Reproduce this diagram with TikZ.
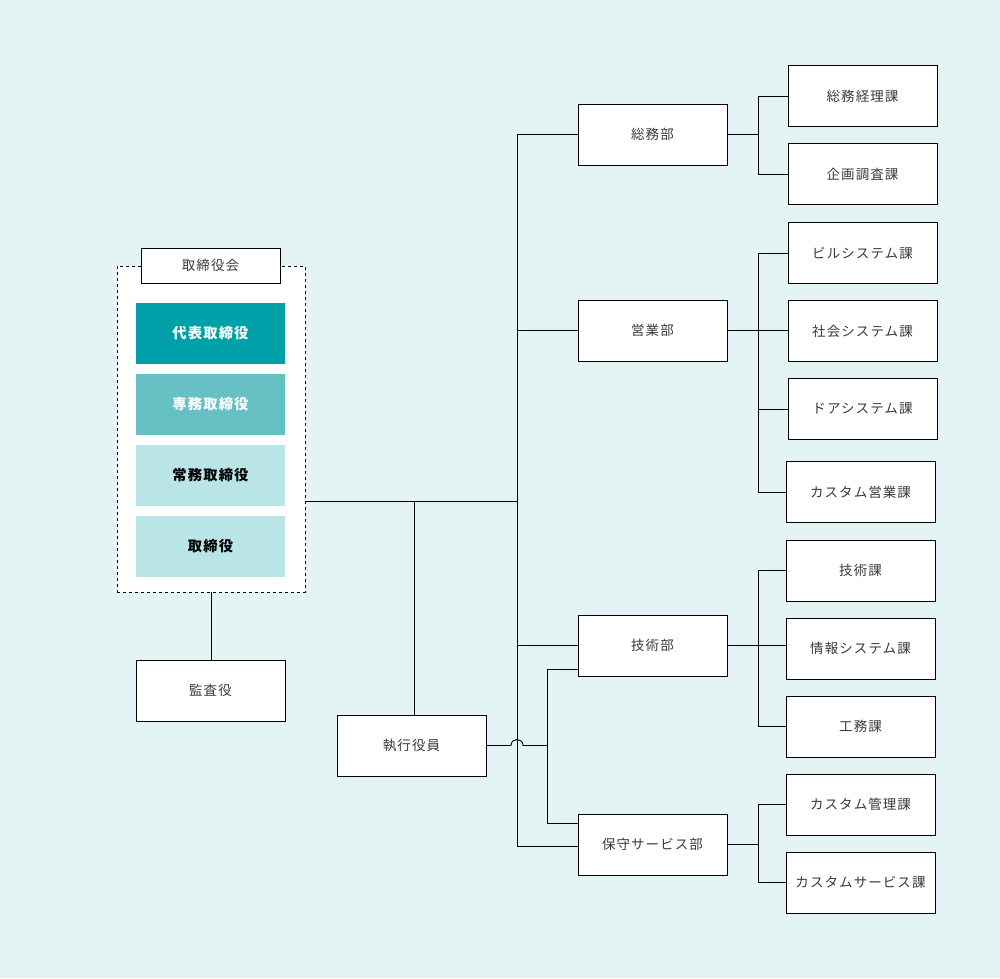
\documentclass[tikz,border=0pt]{standalone}
\usepackage{fontspec}
\setmainfont{Noto Sans CJK JP}[LetterSpace=8]
\definecolor{bgc}{HTML}{E4F4F4}
\definecolor{tealA}{HTML}{00A0A8}
\definecolor{tealB}{HTML}{66C0C4}
\definecolor{tealC}{HTML}{B9E5E7}
\definecolor{txt}{HTML}{3A3A3A}
\begin{document}
\begin{tikzpicture}[x=1pt,y=-1pt,
  box/.style={draw=black,fill=white,line width=0.9pt,minimum width=149pt,minimum height=61pt,inner sep=0pt,text=txt,font=\fontsize{13.5}{16}\selectfont},
  rank/.style={minimum width=149pt,minimum height=61pt,inner sep=0pt,font=\fontsize{14.3}{16}\selectfont\bfseries},
  conn/.style={line width=0.9pt,black}]
\useasboundingbox[fill=bgc] (0,0) rectangle (1000,978);
% board group
\node[draw=black,dashed,line width=0.9pt,fill=white,minimum width=188pt,minimum height=326pt,inner sep=0pt] (board) at (211,429) {};
\node[box,minimum width=139pt,minimum height=35pt] (boardlbl) at (210.5,265.5) {取締役会};
\node[rank,fill=tealA,text=white] (daihyo) at (210.5,333.5) {代表取締役};
\node[rank,fill=tealB,text=white] (senmu) at (210.5,404.5) {専務取締役};
\node[rank,fill=tealC,text=black] (jomu) at (210.5,475.5) {常務取締役};
\node[rank,fill=tealC,text=black] (tori) at (210.5,546.5) {取締役};
\node[box] (kansa) at (210.5,690.5) {監査役};
\node[box] (shikko) at (411.5,745.5) {執行役員};
% departments
\node[box] (somu) at (652.5,134.5) {総務部};
\node[box] (eigyo) at (652.5,330.5) {営業部};
\node[box] (gijutsu) at (652.5,645.5) {技術部};
\node[box] (hosh) at (652.5,844.5) {保守サービス部};
% sections
\node[box] (s1) at (862.5,96) {総務経理課};
\node[box] (s2) at (862.5,174) {企画調査課};
\node[box] (e1) at (862.5,253) {ビルシステム課};
\node[box] (e2) at (862.5,331) {社会システム課};
\node[box] (e3) at (862.5,409) {ドアシステム課};
\node[box] (e4) at (860.5,492) {カスタム営業課};
\node[box] (g1) at (860.5,570.5) {技術課};
\node[box] (g2) at (860.5,648.5) {情報システム課};
\node[box] (g3) at (860.5,726.5) {工務課};
\node[box] (h1) at (860.5,804.5) {カスタム管理課};
\node[box] (h2) at (860.5,882.5) {カスタムサービス課};
% coordinates
\coordinate (bj) at (305,501);
\coordinate (tA) at (517,134.5);
\coordinate (tB) at (517,846);
\coordinate (mid) at (414,501);
\coordinate (fA) at (547,669);
\coordinate (fB) at (547,823);
\coordinate (fM) at (547,745.5);
\coordinate (hopL) at (511,745.5);
\coordinate (hopR) at (523,745.5);
\coordinate (rs) at (758,96);
% connectors left
\draw[conn] (board.south) -- (board.south |- kansa.north);
\draw[conn] (bj) -- (tA |- bj);
\draw[conn] (mid) -- (mid |- shikko.north);
% trunk
\draw[conn] (somu.west) -- (tA) -- (tB) -- (hosh.west |- tB);
\draw[conn] (tA |- eigyo.west) -- (eigyo.west);
\draw[conn] (tA |- gijutsu.west) -- (gijutsu.west);
% second feed with hop
\draw[conn] (shikko.east) -- (hopL) .. controls (511,737.5) and (523,737.5) .. (hopR) -- (fM);
\draw[conn] (gijutsu.west |- fA) -- (fA) -- (fB) -- (hosh.west |- fB);
% right brackets
\draw[conn] (somu.east) -- (rs |- somu.east);
\draw[conn] (s1.west) -| (rs) |- (s2.west);
\draw[conn] (eigyo.east) -- (e2.west |- eigyo.east);
\draw[conn] (e1.west) -- (rs |- e1.west) -- (rs |- e4.west) -- (e4.west);
\draw[conn] (rs |- e3.west) -- (e3.west);
\draw[conn] (gijutsu.east) -- (g2.west |- gijutsu.east);
\draw[conn] (g1.west) -- (rs |- g1.west) -- (rs |- g3.west) -- (g3.west);
\draw[conn] (hosh.east) -- (rs |- hosh.east);
\draw[conn] (h1.west) -- (rs |- h1.west) -- (rs |- h2.west) -- (h2.west);
\end{tikzpicture}
\end{document}
